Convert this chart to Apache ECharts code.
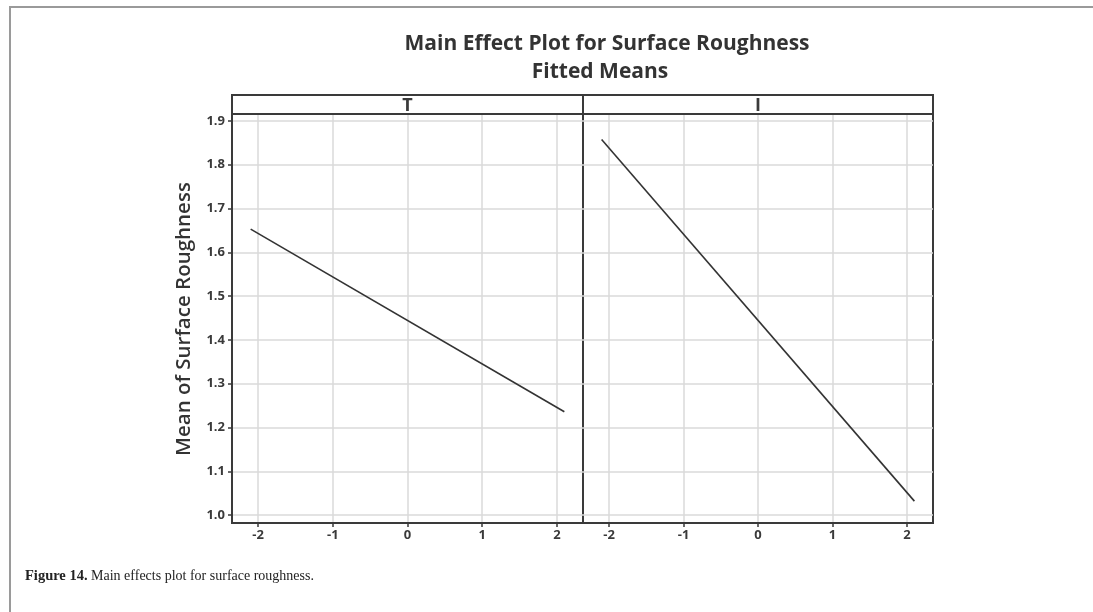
<!DOCTYPE html>
<html>
<head>
<meta charset="utf-8">
<script src="https://cdn.jsdelivr.net/npm/echarts@6/dist/echarts.min.js"></script>
<style>
  html, body { margin: 0; padding: 0; background: #fff; }
  #chart { width: 1093px; height: 612px; }
</style>
</head>
<body>
<div id="chart"></div>
<script>
// Factors (panels) and fitted means at the coded low / high levels
const factors = ['T', 'I'];
const codedLevels = [-2.1, 2.1];
const meansT = [1.653, 1.236];
const meansI = [1.858, 1.032];

// Tick values
const xTicks = [-2, -1, 0, 1, 2];
const yTicks = [1.0, 1.1, 1.2, 1.3, 1.4, 1.5, 1.6, 1.7, 1.8, 1.9];

// Layout
const PLOT_TOP = 114, PLOT_H = 409;
const PANEL_LEFT = [232, 583], PANEL_W = [351, 350];
const STRIP_H = 19;
const X_MIN = -2.35, X_MAX = 2.35, Y_MIN = 0.982, Y_MAX = 1.916;

const INK = '#3a3a3a';
const GRID = '#dadada';
const FONT = '"Open Sans", "Noto Sans", sans-serif';

const chart = echarts.init(document.getElementById('chart'), null, { renderer: 'canvas' });

const seriesMeans = [meansT, meansI];

const grids = PANEL_LEFT.map((l, i) => ({
  left: l, top: PLOT_TOP, width: PANEL_W[i], height: PLOT_H,
  show: true, borderColor: INK, borderWidth: 2, backgroundColor: '#fff'
}));

const xAxes = PANEL_LEFT.map((_, i) => ({
  type: 'value', gridIndex: i, min: X_MIN, max: X_MAX,
  axisLine: { show: true, onZero: false, lineStyle: { color: INK, width: 2 } },
  axisTick: { show: true, length: 4, customValues: xTicks, lineStyle: { color: INK, width: 1.5 } },
  axisLabel: { customValues: xTicks, color: INK, fontFamily: FONT, fontWeight: 'bold', fontSize: 13, margin: 6,
    formatter: v => String(v) },
  splitLine: { show: true, lineStyle: { color: GRID, width: 1.5 } }
}));

const yAxes = PANEL_LEFT.map((_, i) => ({
  type: 'value', gridIndex: i, min: Y_MIN, max: Y_MAX,
  axisLine: { show: i === 0, onZero: false, lineStyle: { color: INK, width: 2 } },
  axisTick: { show: i === 0, length: 4, customValues: yTicks, lineStyle: { color: INK, width: 1.5 } },
  axisLabel: { show: i === 0, customValues: yTicks, color: INK, fontFamily: FONT, fontWeight: 'bold', fontSize: 13, margin: 7,
    formatter: v => v.toFixed(1) },
  splitLine: { show: true, lineStyle: { color: GRID, width: 1.5 } }
}));

const series = factors.map((f, i) => ({
  name: f, type: 'line', xAxisIndex: i, yAxisIndex: i,
  data: codedLevels.map((x, k) => [x, seriesMeans[i][k]]),
  symbol: 'none', lineStyle: { color: '#333', width: 1.6 }, z: 5
}));

const strips = [];
factors.forEach((f, i) => {
  strips.push({
    type: 'rect', shape: { x: PANEL_LEFT[i], y: PLOT_TOP - STRIP_H, width: PANEL_W[i], height: STRIP_H },
    style: { fill: '#fff', stroke: INK, lineWidth: 2 }, z: 10
  });
  strips.push({
    type: 'text', x: PANEL_LEFT[i] + PANEL_W[i] / 2, y: PLOT_TOP - STRIP_H / 2 + 1, z: 11,
    style: { text: f, fill: INK, font: 'bold 18px ' + FONT, align: 'center', verticalAlign: 'middle' }
  });
});

const option = {
  backgroundColor: '#fff',
  animation: false,
  grid: grids,
  xAxis: xAxes,
  yAxis: yAxes,
  series: series,
  graphic: [
    // figure box
    { type: 'polyline', shape: { points: [[10, 612], [10, 7], [1093, 7]] },
      style: { stroke: '#9a9a9a', lineWidth: 2, fill: null }, z: 1 },
    // title
    { type: 'text', x: 607, y: 44, z: 11,
      style: { text: 'Main Effect Plot for Surface Roughness', fill: '#333', font: 'bold 21px ' + FONT,
        align: 'center', verticalAlign: 'middle' } },
    { type: 'text', x: 600, y: 72, z: 11,
      style: { text: 'Fitted Means', fill: '#333', font: 'bold 21px ' + FONT,
        align: 'center', verticalAlign: 'middle' } },
    // y-axis title
    { type: 'text', x: 184, y: 319, rotation: Math.PI / 2, z: 11,
      style: { text: 'Mean of Surface Roughness', fill: '#333', font: '600 20.5px ' + FONT,
        align: 'center', verticalAlign: 'middle' } },
    // caption
    { type: 'text', x: 25, y: 576, z: 11,
      style: {
        text: '{b|Figure 14.} Main effects plot for surface roughness.',
        fill: '#222', font: '14px "Liberation Serif", "DejaVu Serif", serif',
        verticalAlign: 'middle',
        rich: {
          b: { fontWeight: 'bold', fontSize: 14.5, fontFamily: '"Liberation Serif", serif', fill: '#222' }
        }
      } }
  ].concat(strips)
};

chart.setOption(option);
</script>
</body>
</html>
